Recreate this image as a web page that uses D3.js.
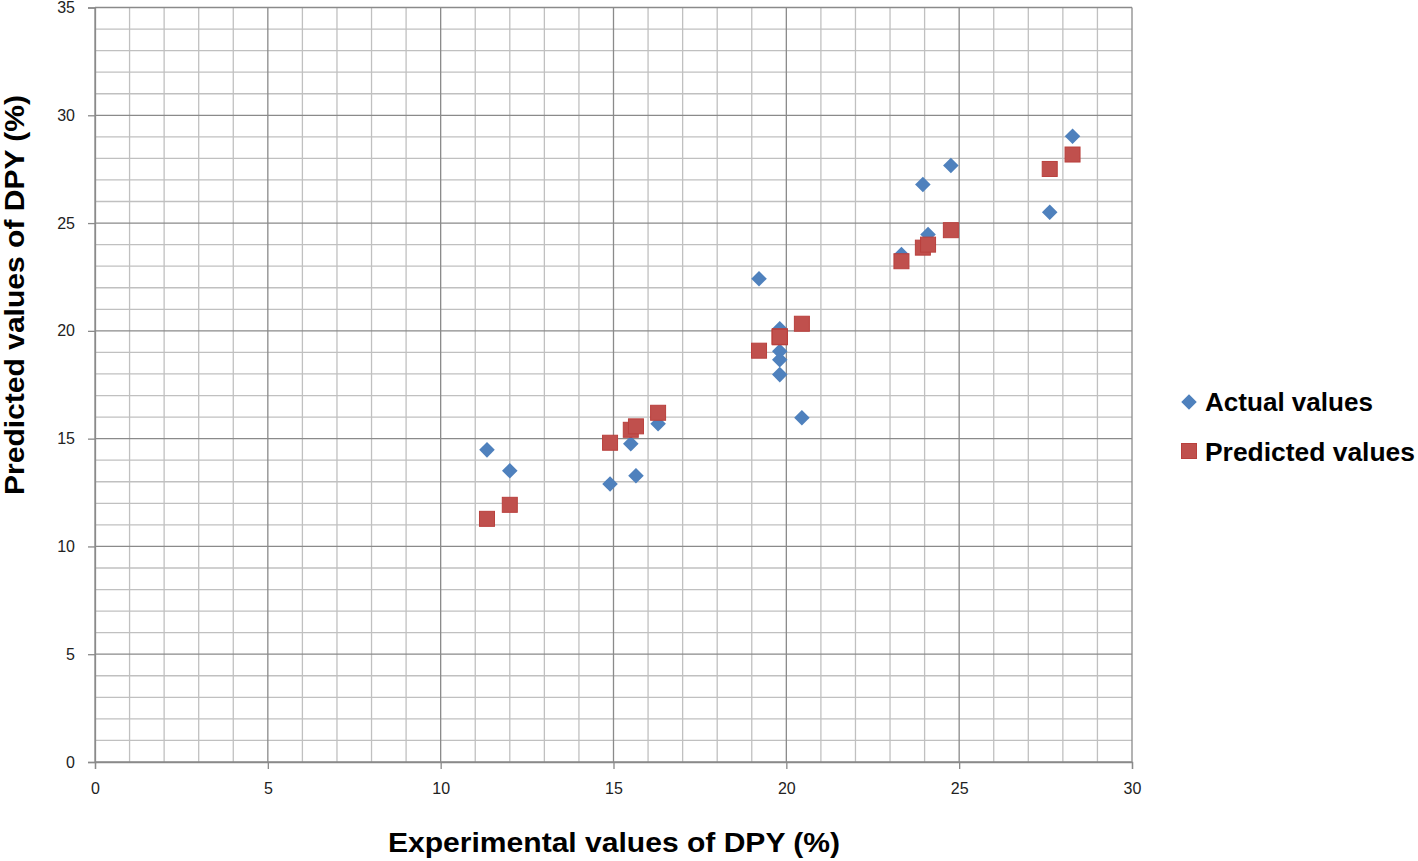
<!DOCTYPE html>
<html><head><meta charset="utf-8">
<script src="https://cdn.jsdelivr.net/npm/d3@7"></script>
<style>body{margin:0;background:#fff;} svg{display:block;}</style>
</head><body>
<script>
const experimental = [11.34, 12.0, 14.9, 15.5, 15.65, 16.29, 19.21, 19.81, 19.81, 19.81, 19.81, 20.45, 23.33, 23.95, 24.1, 24.76, 27.62, 28.28];
const actualValues = [14.48, 13.51, 12.9, 14.76, 13.28, 15.69, 22.42, 20.1, 19.05, 18.66, 17.97, 15.97, 23.54, 26.79, 24.47, 27.67, 25.5, 29.03];
const predictedValues = [11.28, 11.93, 14.81, 15.41, 15.57, 16.2, 19.08, 19.73, 19.7, 19.75, 19.72, 20.33, 23.23, 23.86, 24.0, 24.67, 27.51, 28.18];
const xTicks = [0, 5, 10, 15, 20, 25, 30];
const yTicks = [0, 5, 10, 15, 20, 25, 30, 35];
const seriesNames = ["Actual values", "Predicted values"];
const legendWidths = [168, 210];

const W = 1418, H = 861;
const svg = d3.select("body").append("svg").attr("width", W).attr("height", H);
const x = d3.scaleLinear().domain([0, 30]).range([95, 1132]);
const y = d3.scaleLinear().domain([0, 35]).range([762, 7.5]);
const font = "'Liberation Sans', Arial, sans-serif";

const minorX = d3.range(0, 31, 1), minorY = d3.range(0, 36, 1);
const g = svg.append("g");
g.selectAll("line.mx").data(minorX.filter(v => v % 5 !== 0)).join("line")
  .attr("x1", d => x(d)).attr("x2", d => x(d)).attr("y1", y(0)).attr("y2", y(35))
  .attr("stroke", "#c0c0c0").attr("stroke-width", 1.3);
g.selectAll("line.my").data(minorY.filter(v => v % 5 !== 0)).join("line")
  .attr("y1", d => y(d)).attr("y2", d => y(d)).attr("x1", x(0)).attr("x2", x(30))
  .attr("stroke", "#c0c0c0").attr("stroke-width", 1.3);
g.selectAll("line.Mx").data(xTicks).join("line")
  .attr("x1", d => x(d)).attr("x2", d => x(d)).attr("y1", y(0)).attr("y2", y(35))
  .attr("stroke", "#8a8a8a").attr("stroke-width", 1.3);
g.selectAll("line.My").data(yTicks).join("line")
  .attr("y1", d => y(d)).attr("y2", d => y(d)).attr("x1", x(0)).attr("x2", x(30))
  .attr("stroke", "#8a8a8a").attr("stroke-width", 1.3);

const xAxis = svg.append("g").attr("transform", `translate(0,${y(0)})`)
  .call(d3.axisBottom(x).tickValues(xTicks).tickSize(7).tickPadding(14).tickFormat(d3.format("d")));
const yAxis = svg.append("g").attr("transform", `translate(${x(0)},0)`)
  .call(d3.axisLeft(y).tickValues(yTicks).tickSize(7).tickPadding(13).tickFormat(d3.format("d")));
[xAxis, yAxis].forEach(a => {
  a.select(".domain").attr("stroke", "#8a8a8a").attr("stroke-width", 1.3);
  a.selectAll(".tick line").attr("stroke", "#8a8a8a").attr("stroke-width", 1.3);
  a.selectAll("text").attr("font-family", font).attr("font-size", 16).attr("fill", "#222");
});

const blue = "#4F81BD", red = "#C0504D";
const pts = experimental.map((e, i) => ({e, a: actualValues[i], p: predictedValues[i]}));
svg.append("g").selectAll("path").data(pts).join("path")
  .attr("transform", d => `translate(${x(d.e)},${y(d.a)}) rotate(45)`)
  .attr("d", "M-5.5,-5.5H5.5V5.5H-5.5Z")
  .attr("fill", blue);
svg.append("g").selectAll("rect").data(pts).join("rect")
  .attr("x", d => x(d.e) - 7.5).attr("y", d => y(d.p) - 7.5)
  .attr("width", 15).attr("height", 15)
  .attr("fill", red).attr("stroke", "#b9403d").attr("stroke-width", 1);

// legend
const leg = svg.append("g");
leg.append("path").attr("d", "M-5.5,-5.5H5.5V5.5H-5.5Z")
  .attr("transform", `translate(1189,402) rotate(45)`).attr("fill", blue);
leg.append("rect").attr("x", 1181.5).attr("y", 443.5).attr("width", 15).attr("height", 15)
  .attr("fill", red).attr("stroke", "#b9403d");
leg.selectAll("text").data(seriesNames).join("text")
  .attr("x", 1205).attr("y", (d, i) => 411 + i * 50)
  .attr("font-family", font).attr("font-weight", "bold").attr("font-size", 25)
  .attr("textLength", (d, i) => legendWidths[i]).attr("lengthAdjust", "spacingAndGlyphs")
  .attr("fill", "#000").text(d => d);

svg.append("text").attr("x", 614).attr("y", 852).attr("text-anchor", "middle")
  .attr("font-family", font).attr("font-weight", "bold").attr("font-size", 27)
  .attr("textLength", 452).attr("lengthAdjust", "spacingAndGlyphs")
  .text("Experimental values of DPY (%)");
svg.append("text").attr("transform", "translate(24,295) rotate(-90)").attr("text-anchor", "middle")
  .attr("font-family", font).attr("font-weight", "bold").attr("font-size", 27)
  .attr("textLength", 400).attr("lengthAdjust", "spacingAndGlyphs")
  .text("Predicted values of DPY (%)");
</script>
</body></html>
